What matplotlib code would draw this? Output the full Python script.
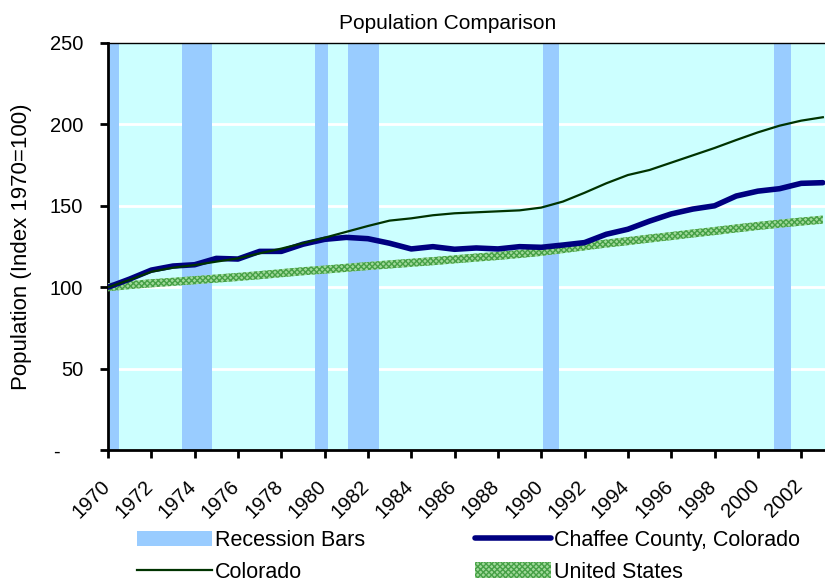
import matplotlib

matplotlib.use("Agg")
import matplotlib.pyplot as plt
import matplotlib.transforms as mtransforms
import numpy as np

plt.rcParams["font.family"] = ["Liberation Sans", "DejaVu Sans"]

# data (index, 1970 = 100)
years = list(range(1970, 2004))
chaffee = [100.0, 105.0, 110.5, 113.0, 113.8, 117.7, 117.3, 122.0, 122.0, 126.4,
           129.4, 130.6, 129.8, 127.0, 123.5, 124.9, 123.3, 124.1, 123.5, 124.9,
           124.5, 125.9, 127.4, 132.5, 135.6, 140.6, 145.0, 148.0, 150.0, 156.0,
           159.0, 160.5, 163.8, 164.2]
colorado = [100.0, 104.5, 109.5, 112.0, 113.6, 115.7, 117.7, 120.8, 123.7, 127.0,
            130.4, 134.0, 137.6, 140.9, 142.3, 144.2, 145.4, 146.0, 146.6, 147.2,
            148.9, 152.6, 158.0, 163.8, 168.9, 172.0, 176.5, 181.0, 185.5, 190.4,
            195.1, 199.2, 202.3, 204.4]
us = [100.0, 101.3, 102.4, 103.3, 104.3, 105.3, 106.3, 107.4, 108.6, 109.8,
      110.8, 111.9, 113.0, 114.0, 115.0, 116.0, 117.1, 118.2, 119.2, 120.4,
      121.7, 123.4, 125.1, 126.8, 128.3, 129.9, 131.4, 133.0, 134.5, 136.1,
      137.6, 139.0, 140.3, 141.5]

# recession bar spans (start, end) on the year axis
recession_start = [1970.0, 1973.4, 1979.55, 1981.1, 1990.1, 2000.75]
recession_end = [1970.5, 1974.8, 1980.15, 1982.5, 1990.8, 2001.55]

yticks = [0, 50, 100, 150, 200, 250]
ytick_labels = ["-    ", "50", "100", "150", "200", "250"]
xticks = list(range(1970, 2003, 2))

fig = plt.figure(figsize=(8.25, 5.84), dpi=100)
ax = fig.add_axes([108 / 825, 1 - 450 / 584, 1 - 108 / 825, (450 - 43) / 584])
ax.set_facecolor("#CCFFFF")

for v in yticks[1:-1]:
    ax.axhline(v, color="white", lw=2, zorder=1)

for i, (s, e) in enumerate(zip(recession_start, recession_end)):
    ax.axvspan(s, e, color="#99CCFF", lw=0, zorder=2,
               label="Recession Bars" if i == 0 else None)

us_arr = np.array(us)
h_us = ax.fill_between(years, us_arr - 2.5, us_arr + 2.5, facecolor="#A0D99A",
                       edgecolor="#46A046", hatch="xxxxxx", lw=0, zorder=3,
                       label="United States")
h_ch, = ax.plot(years, chaffee, color="#000080", lw=4.0, zorder=4,
                solid_capstyle="round", label="Chaffee County, Colorado")
h_co, = ax.plot(years, colorado, color="#003300", lw=1.6, zorder=5,
                label="Colorado")

ax.set_xlim(1970, 2003.1)
ax.set_ylim(0, 250)
ax.set_yticks(yticks)
ax.set_yticklabels(ytick_labels)
ax.set_xticks(xticks)
ax.set_xticklabels([str(x) for x in xticks], rotation=45, ha="right",
                   rotation_mode="anchor")
ax.tick_params(axis="both", labelsize=14.5, direction="out", length=6, width=2)
ax.tick_params(axis="y", pad=12)
ax.tick_params(axis="x", pad=13)

# nudge the slanted year labels a little to the left, as in the original
shift = mtransforms.ScaledTranslation(-8 / 100, 0, fig.dpi_scale_trans)
for lab in ax.get_xticklabels():
    lab.set_transform(lab.get_transform() + shift)

for side in ["left", "bottom"]:
    ax.spines[side].set_linewidth(2)
ax.spines["top"].set_linewidth(1)
ax.spines["right"].set_visible(False)

ax.set_ylabel("Population (Index 1970=100)", fontsize=16, labelpad=13)
ax.set_title("Population Comparison", fontsize=15, pad=10,
             x=(448 - 108) / 717)

h_rec = ax.get_legend_handles_labels()[0][0]
fig.legend([h_rec, h_co, h_ch, h_us],
           ["Recession Bars", "Colorado", "Chaffee County, Colorado", "United States"],
           ncol=2, frameon=False, fontsize=15.5, loc="upper left",
           bbox_to_anchor=(126 / 825, 1 - 519 / 584), borderpad=0,
           handlelength=3.5, handletextpad=0.15, columnspacing=5.1,
           labelspacing=0.5)

fig.savefig("out.png", dpi=100)
